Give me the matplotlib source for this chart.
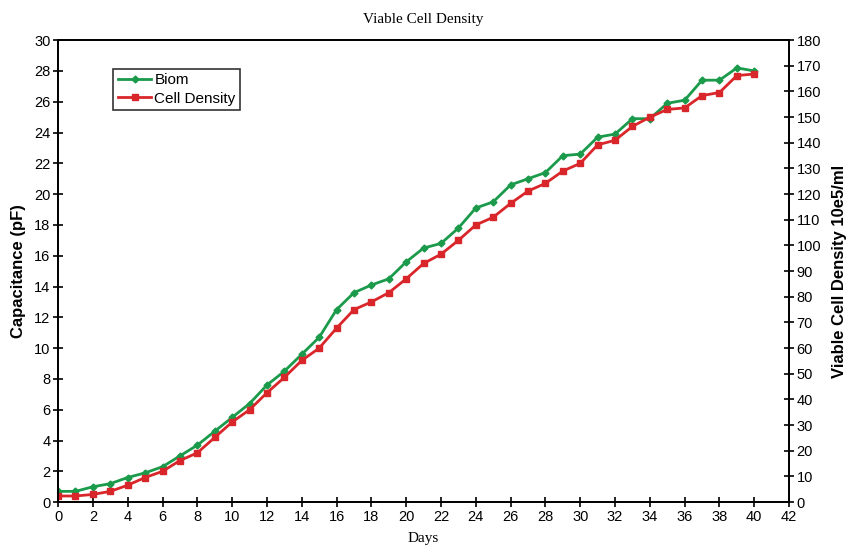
import matplotlib
matplotlib.use("Agg")
import matplotlib.pyplot as plt

days = list(range(0, 41))
biom = [0.7, 0.7, 1.0, 1.2, 1.6, 1.9, 2.3, 3.0, 3.7, 4.6,
        5.5, 6.4, 7.6, 8.5, 9.6, 10.7, 12.5, 13.6, 14.1, 14.5,
        15.6, 16.5, 16.8, 17.8, 19.1, 19.5, 20.6, 21.0, 21.4, 22.5,
        22.6, 23.7, 23.9, 24.9, 24.9, 25.9, 26.1, 27.4, 27.4, 28.2, 28.0]
# cell density in 10e5/ml (right axis)
cells = [2.4, 2.4, 3.0, 4.2, 6.6, 9.6, 12.0, 16.2, 19.2, 25.2,
         31.2, 36.0, 42.6, 48.6, 55.2, 60.0, 67.8, 75.0, 78.0, 81.6,
         87.0, 93.0, 96.6, 102.0, 108.0, 111.0, 116.4, 121.2, 124.2, 129.0,
         132.0, 139.2, 141.0, 146.4, 150.0, 153.0, 153.6, 158.4, 159.6, 166.2, 166.8]

green = "#1a9a4a"
red = "#d9262a"

plt.rcParams['font.family'] = ['Liberation Sans', 'DejaVu Sans']

fig = plt.figure(figsize=(8.54, 5.5), dpi=100)
ax = fig.add_axes([0.068, 0.087, 0.856, 0.840])
ax2 = ax.twinx()

l1, = ax.plot(days, biom, color=green, marker='D', markersize=3.5, linewidth=2, label='Biom')
l2, = ax2.plot(days, cells, color=red, marker='s', markersize=5, linewidth=2, label='Cell Density')

ax.set_xlim(0, 42)
ax.set_ylim(0, 30)
ax2.set_ylim(0, 180)
ax.set_xticks(range(0, 43, 2))
ax.set_yticks(range(0, 31, 2))
ax2.set_yticks(range(0, 181, 10))

for a in (ax, ax2):
    a.tick_params(direction='inout', length=7, width=1.2, labelsize=10.5, pad=2)
    for s in a.spines.values():
        s.set_linewidth(1.3)

ax.set_ylabel('Capacitance (pF)', fontsize=12, fontweight='bold', labelpad=6)
ax2.set_ylabel('Viable Cell Density 10e5/ml', fontsize=12, fontweight='bold', labelpad=8)
ax.set_xlabel('Days', fontsize=11, family='Liberation Serif', labelpad=6)
ax.set_title('Viable Cell Density', fontsize=11, family='Liberation Serif', pad=12)

leg = ax.legend(handles=[l1, l2], loc='upper left', bbox_to_anchor=(0.065, 0.955),
                fontsize=11, frameon=True, fancybox=False, edgecolor='black',
                handlelength=2.2, handletextpad=0.2, borderpad=0.3, labelspacing=0.3)
leg.get_frame().set_linewidth(1.2)

fig.savefig('out.png', dpi=100)
